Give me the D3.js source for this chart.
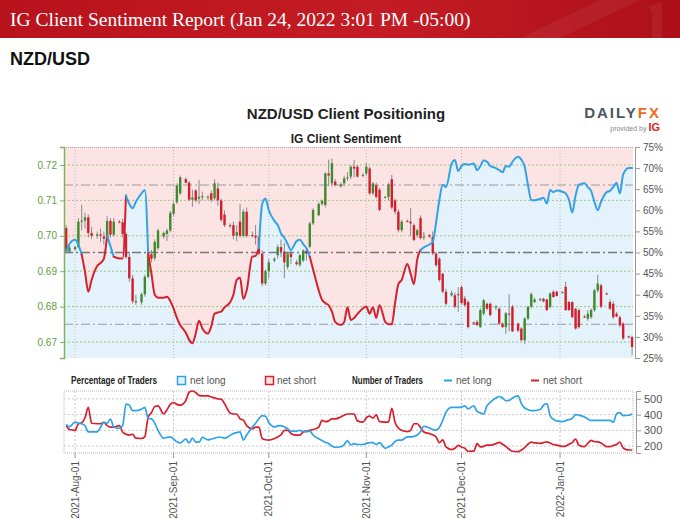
<!DOCTYPE html>
<html>
<head>
<meta charset="utf-8">
<script src="https://cdn.jsdelivr.net/npm/d3@7"></script>
<style>
  body { margin: 0; background: #fff; }
  svg { display: block; font-family: "Liberation Sans", Arial, sans-serif; }
</style>
</head>
<body>
<svg id="chart" width="680" height="520"></svg>
<script>
// ---- data ----
const firstDay = '2021-07-29';
const lastDay = '2022-01-24';
const monthTicks = ['2021-08-01', '2021-09-01', '2021-10-01', '2021-11-01', '2021-12-01', '2022-01-01'];
const priceTicks = [0.67, 0.68, 0.69, 0.70, 0.71, 0.72];
const pctTicks = [25, 30, 35, 40, 45, 50, 55, 60, 65, 70, 75];
const countTicks = [200, 300, 400, 500];
const refLevels = [66, 50, 33];

// one candle per trading day (Sun-Fri), Jul 29 2021 .. Jan 24 2022
const open = [0.7022, 0.6955,
  0.6962, 0.6968, 0.7040, 0.7043, 0.7052, 0.7008,
  0.7000, 0.7004, 0.6998, 0.6992, 0.7042, 0.7003,
  0.7040, 0.7038, 0.7005, 0.6940, 0.6880, 0.6815,
  0.6812, 0.6835, 0.6884, 0.6948, 0.6937, 0.6965,
  0.6998, 0.7005, 0.7015, 0.7062, 0.7095, 0.7120,
  0.7160, 0.7150, 0.7102, 0.7128, 0.7105, 0.7110,
  0.7108, 0.7120, 0.7106, 0.7134, 0.7100, 0.7060,
  0.7030, 0.7030, 0.7000, 0.7040, 0.7000, 0.7068,
  0.7002, 0.7000, 0.6995, 0.6950, 0.6865, 0.6900,
  0.6930, 0.6945, 0.6968, 0.6955, 0.6912, 0.6950,
  0.6925, 0.6918, 0.6930, 0.6958, 0.6969, 0.7035,
  0.7058, 0.7090, 0.7087, 0.7176, 0.7148, 0.7153,
  0.7140, 0.7148, 0.7162, 0.7167, 0.7195, 0.7195,
  0.7170, 0.7176, 0.7190, 0.7120, 0.7143, 0.7130,
  0.7108, 0.7110, 0.7160, 0.7100, 0.7068, 0.7016,
  0.7042, 0.7040, 0.7030, 0.7002, 0.7050, 0.6995,
  0.7002, 0.6997, 0.6950, 0.6935, 0.6893, 0.6842,
  0.6832, 0.6832, 0.6835, 0.6855, 0.6823, 0.6813,
  0.6755, 0.6757, 0.6742, 0.6780, 0.6808, 0.6808,
  0.6797, 0.6794, 0.6752, 0.6742, 0.6780, 0.6800,
  0.6752, 0.6738, 0.6705, 0.6766, 0.6800, 0.6813,
  0.6820, 0.6822, 0.6820, 0.6799, 0.6842, 0.6842,
  0.6840, 0.6856, 0.6813, 0.6813, 0.6794, 0.6790,
  0.6772, 0.6766, 0.6770, 0.6790, 0.6846, 0.6860,
  0.6837, 0.6813, 0.6808, 0.6780, 0.6770, 0.6752,
  0.6716, 0.6714];
const high = [0.7030, 0.6975,
  0.6972, 0.7050, 0.7088, 0.7065, 0.7060, 0.7025,
  0.7012, 0.7020, 0.7012, 0.7055, 0.7050, 0.7050,
  0.7045, 0.7048, 0.7010, 0.6955, 0.6890, 0.6833,
  0.6840, 0.6890, 0.6955, 0.6960, 0.6990, 0.7020,
  0.7012, 0.7020, 0.7070, 0.7095, 0.7148, 0.7170,
  0.7165, 0.7155, 0.7130, 0.7132, 0.7158, 0.7125,
  0.7115, 0.7128, 0.7160, 0.7150, 0.7105, 0.7072,
  0.7035, 0.7040, 0.7030, 0.7090, 0.7075, 0.7080,
  0.7012, 0.7030, 0.7000, 0.6960, 0.6905, 0.6935,
  0.6940, 0.6975, 0.6990, 0.6980, 0.6955, 0.6960,
  0.6932, 0.6948, 0.6962, 0.6965, 0.7040, 0.7078,
  0.7095, 0.7102, 0.7180, 0.7215, 0.7218, 0.7160,
  0.7150, 0.7170, 0.7180, 0.7200, 0.7215, 0.7200,
  0.7178, 0.7205, 0.7195, 0.7152, 0.7150, 0.7135,
  0.7112, 0.7150, 0.7172, 0.7105, 0.7075, 0.7045,
  0.7046, 0.7078, 0.7035, 0.7020, 0.7058, 0.7011,
  0.7005, 0.7012, 0.6955, 0.6940, 0.6895, 0.6850,
  0.6845, 0.6840, 0.6855, 0.6860, 0.6830, 0.6818,
  0.6758, 0.6762, 0.6795, 0.6822, 0.6812, 0.6812,
  0.6805, 0.6798, 0.6755, 0.6785, 0.6835, 0.6805,
  0.6755, 0.6742, 0.6770, 0.6802, 0.6840, 0.6825,
  0.6825, 0.6825, 0.6822, 0.6840, 0.6846, 0.6845,
  0.6843, 0.6870, 0.6816, 0.6815, 0.6796, 0.6795,
  0.6776, 0.6790, 0.6795, 0.6850, 0.6890, 0.6865,
  0.6840, 0.6820, 0.6815, 0.6785, 0.6775, 0.6756,
  0.6718, 0.6718];
const low = [0.6950, 0.6950,
  0.6958, 0.6965, 0.7015, 0.7020, 0.6995, 0.6990,
  0.6992, 0.6982, 0.6975, 0.6985, 0.6995, 0.6998,
  0.7035, 0.6995, 0.6935, 0.6870, 0.6808, 0.6805,
  0.6805, 0.6828, 0.6880, 0.6925, 0.6930, 0.6960,
  0.6992, 0.6985, 0.7010, 0.7055, 0.7090, 0.7115,
  0.7148, 0.7098, 0.7082, 0.7095, 0.7090, 0.7100,
  0.7100, 0.7095, 0.7100, 0.7085, 0.7040, 0.7025,
  0.7022, 0.6990, 0.6985, 0.6995, 0.6995, 0.6995,
  0.6995, 0.6975, 0.6945, 0.6858, 0.6860, 0.6880,
  0.6925, 0.6935, 0.6940, 0.6880, 0.6905, 0.6920,
  0.6915, 0.6912, 0.6925, 0.6930, 0.6965, 0.7030,
  0.7055, 0.7085, 0.7080, 0.7140, 0.7140, 0.7140,
  0.7135, 0.7140, 0.7155, 0.7160, 0.7165, 0.7165,
  0.7165, 0.7170, 0.7115, 0.7115, 0.7105, 0.7070,
  0.7105, 0.7100, 0.7075, 0.7060, 0.7010, 0.7010,
  0.7038, 0.7000, 0.6985, 0.6995, 0.6990, 0.6988,
  0.6994, 0.6945, 0.6912, 0.6870, 0.6838, 0.6802,
  0.6828, 0.6795, 0.6785, 0.6805, 0.6800, 0.6738,
  0.6750, 0.6745, 0.6740, 0.6775, 0.6790, 0.6772,
  0.6790, 0.6748, 0.6740, 0.6723, 0.6730, 0.6728,
  0.6728, 0.6702, 0.6695, 0.6762, 0.6795, 0.6810,
  0.6815, 0.6812, 0.6788, 0.6795, 0.6825, 0.6828,
  0.6837, 0.6788, 0.6788, 0.6768, 0.6735, 0.6738,
  0.6768, 0.6760, 0.6765, 0.6785, 0.6840, 0.6795,
  0.6833, 0.6790, 0.6765, 0.6770, 0.6742, 0.6706,
  0.6710, 0.6662];
const close = [0.6955, 0.6967,
  0.6968, 0.7040, 0.7043, 0.7052, 0.7008, 0.7000,
  0.7004, 0.7000, 0.6992, 0.7042, 0.7003, 0.7040,
  0.7038, 0.7005, 0.6940, 0.6880, 0.6815, 0.6812,
  0.6835, 0.6884, 0.6950, 0.6935, 0.6983, 0.7015,
  0.7008, 0.7015, 0.7065, 0.7090, 0.7142, 0.7165,
  0.7150, 0.7102, 0.7108, 0.7100, 0.7110, 0.7112,
  0.7110, 0.7102, 0.7148, 0.7100, 0.7045, 0.7030,
  0.7028, 0.7000, 0.7010, 0.7000, 0.7068, 0.7000,
  0.7000, 0.6995, 0.6950, 0.6865, 0.6900, 0.6925,
  0.6935, 0.6968, 0.6955, 0.6925, 0.6950, 0.6940,
  0.6920, 0.6945, 0.6958, 0.6950, 0.7035, 0.7073,
  0.7090, 0.7099, 0.7176, 0.7170, 0.7205, 0.7143,
  0.7145, 0.7162, 0.7165, 0.7195, 0.7190, 0.7167,
  0.7172, 0.7195, 0.7120, 0.7148, 0.7110, 0.7073,
  0.7110, 0.7145, 0.7080, 0.7068, 0.7016, 0.7040,
  0.7040, 0.7035, 0.6988, 0.7016, 0.6993, 0.6998,
  0.6998, 0.6950, 0.6917, 0.6875, 0.6842, 0.6808,
  0.6838, 0.6800, 0.6832, 0.6810, 0.6804, 0.6742,
  0.6752, 0.6748, 0.6790, 0.6818, 0.6794, 0.6776,
  0.6800, 0.6752, 0.6742, 0.6781, 0.6778, 0.6730,
  0.6732, 0.6705, 0.6766, 0.6799, 0.6835, 0.6820,
  0.6821, 0.6815, 0.6790, 0.6837, 0.6827, 0.6830,
  0.6841, 0.6790, 0.6790, 0.6770, 0.6738, 0.6742,
  0.6771, 0.6780, 0.6790, 0.6846, 0.6865, 0.6800,
  0.6836, 0.6794, 0.6770, 0.6772, 0.6747, 0.6710,
  0.6714, 0.6686];

// percentage of traders net long
const netLongPct = [50.3, 52.0,
  53.0, 51.8, 49.5, 45.4, 40.7, 43.5,
  46.8, 47.5, 48.5, 54.0, 51.5, 49.0,
  48.6, 48.6, 63.5, 61.5, 60.5, 62.0,
  64.0, 64.8, 49.7, 45.0, 40.0, 39.3,
  39.3, 39.5, 38.5, 36.7, 34.5, 32.8,
  31.0, 29.3, 28.5, 30.8, 33.8, 32.0,
  30.8, 32.5, 35.5, 35.8, 36.0, 37.0,
  38.2, 40.0, 43.5, 44.0, 39.0, 41.0,
  49.0, 49.2, 51.0, 61.5, 62.8, 60.0,
  57.5, 56.5, 54.5, 53.5, 52.0, 50.6,
  52.7, 53.0, 52.0, 51.0, 49.0, 46.0,
  41.0, 38.8, 38.0, 37.5, 36.0, 33.5,
  32.8, 33.5, 37.0, 34.0, 34.5, 35.4,
  36.8, 37.2, 35.5, 37.0, 34.5, 37.5,
  33.6, 33.0, 33.0, 38.0, 42.5, 43.5,
  47.3, 45.0, 42.5, 48.3, 50.6, 51.2,
  51.9, 52.5, 57.0, 62.5, 66.0, 65.5,
  71.0, 71.9, 69.3, 70.5, 71.0, 70.8,
  71.1, 69.5, 70.5, 71.8, 71.5, 70.5,
  70.0, 69.5, 69.0, 70.5, 70.3, 71.5,
  72.7, 72.0, 70.3, 66.0, 62.4, 62.4,
  62.7, 63.0, 61.6, 64.8, 64.3, 64.7,
  64.4, 64.0, 62.5, 59.5, 63.5, 66.0,
  66.4, 65.5, 64.6, 62.0, 60.0, 62.0,
  64.3, 64.6, 65.5, 66.5, 64.0, 68.5,
  70.0, 70.0];

// number of traders
const longCount = [338, 322,
  352, 345, 342, 330, 290, 290,
  290, 320, 350, 345, 372, 321,
  312, 330, 467, 460, 425, 425,
  435, 446, 375, 373, 345, 300,
  250, 255, 258, 245, 227, 220,
  245, 220, 250, 225, 225, 255,
  240, 245, 250, 256, 256, 250,
  268, 280, 285, 290, 238, 270,
  320, 345, 375, 394, 390, 350,
  322, 328, 330, 322, 310, 295,
  295, 300, 293, 292, 295, 270,
  246, 235, 224, 217, 200, 192,
  196, 210, 235, 207, 215, 210,
  210, 217, 222, 222, 210, 222,
  186, 195, 206, 230, 238, 238,
  258, 258, 262, 270, 292, 325,
  315, 305, 302, 318, 362, 415,
  446, 446, 446, 448, 455, 437,
  455, 420, 410, 405, 456, 478,
  505, 515, 505, 488, 490, 505,
  519, 470, 442, 432, 425, 425,
  432, 460, 470, 394, 370, 360,
  355, 362, 368, 376, 400, 396,
  385, 372, 363, 363, 363, 363,
  363, 363, 352, 405, 412, 394,
  396, 404];
const shortCount = [330, 305,
  300, 342, 348, 380, 446, 345,
  342, 342, 350, 330, 321, 321,
  330, 290, 275, 270, 275, 250,
  248, 260, 383, 412, 452, 456,
  404, 430, 465, 477, 465, 460,
  490, 542, 550, 540, 522, 519,
  519, 512, 506, 500, 498, 470,
  410, 404, 404, 373, 365, 330,
  310, 320, 320, 248, 240, 238,
  248, 258, 272, 300, 300, 280,
  269, 270, 290, 295, 300, 305,
  320, 363, 355, 360, 373, 373,
  385, 396, 404, 404, 404, 360,
  352, 380, 390, 378, 398, 355,
  352, 352, 440, 350, 315, 300,
  292, 300, 342, 342, 318, 290,
  279, 272, 258, 222, 240, 195,
  178, 186, 205, 194, 186, 167,
  168, 215, 195, 198, 206, 206,
  215, 224, 212, 198, 180, 167,
  165, 175, 190, 212, 225, 220,
  217, 222, 227, 219, 210, 206,
  198, 200, 212, 222, 245, 205,
  196, 218, 236, 228, 227, 220,
  196, 196, 204, 210, 226, 188,
  175, 175];

// ---- colours ----
const BLUE = '#2fa3e6';
const RED = '#d7202c';
const GREEN_C = '#3f8a2c';
const RED_C = '#d21f2b';
const PINK_BG = '#fce4e5';
const BLUE_BG = '#e4f2fc';

const svg = d3.select('#chart');
const parse = d3.utcParse('%Y-%m-%d');

// trading days: Saturdays have no candle
const days = d3.utcDay.range(parse(firstDay), d3.utcDay.offset(parse(lastDay), 1))
  .filter(d => d.getUTCDay() !== 6);

// broker time axis: each week is six sessions plus a small weekend gap
const weekZero = parse('2021-08-01');
function tradeT(d) {
  const n = Math.round((d - weekZero) / 864e5);
  return Math.floor(n / 7) * 6.7 + d.getUTCDay();
}

const candles = days.map((d, i) => ({
  date: d, t: tradeT(d),
  o: open[i], h: high[i], l: low[i], c: close[i],
  pct: netLongPct[i], nl: longCount[i], ns: shortCount[i]
}));

// ---- layout ----
const pTop = { left: 64, right: 633, top: 147, bottom: 358 };
const pBot = { left: 64, right: 633, top: 391, bottom: 453 };

const x = d3.scaleLinear()
  .domain([candles[0].t - 0.65, candles[candles.length - 1].t + 0.27])
  .range([pTop.left, pTop.right]);
const yPrice = d3.scaleLinear().domain([0.66548, 0.72508]).range([pTop.bottom, pTop.top]);
const yPct = d3.scaleLinear().domain([25, 75]).range([pTop.bottom, pTop.top]);
const yCnt = d3.scaleLinear().domain([156, 550]).range([pBot.bottom, pBot.top]);

const monthX = monthTicks.map(s => x(tradeT(parse(s))));

// ---- header ----
const defs = svg.append('defs');
const hg = defs.append('linearGradient').attr('id', 'hdr').attr('x1', 0).attr('x2', 1);
hg.append('stop').attr('offset', 0).attr('stop-color', '#b8121c');
hg.append('stop').attr('offset', 0.55).attr('stop-color', '#c41c24');
hg.append('stop').attr('offset', 1).attr('stop-color', '#ad1019');
svg.append('rect').attr('width', 680).attr('height', 38).attr('fill', 'url(#hdr)');
svg.append('path').attr('d', 'M600,0 L640,0 L560,38 L520,38 Z').attr('fill', '#fff').attr('opacity', 0.05);
svg.append('path').attr('d', 'M648,6 L662,2 L662,38 L652,38 L652,12 Z').attr('fill', '#fff').attr('opacity', 0.05);
svg.append('text')
  .attr('x', 10).attr('y', 26)
  .attr('fill', '#fff')
  .style('font-family', '"Liberation Serif", "DejaVu Serif", serif')
  .style('font-size', '19.5px')
  .text('IG Client Sentiment Report (Jan 24, 2022 3:01 PM -05:00)');

svg.append('text')
  .attr('x', 10).attr('y', 65)
  .attr('fill', '#111')
  .style('font-size', '18px').style('font-weight', 'bold')
  .text('NZD/USD');

// ---- titles ----
svg.append('text')
  .attr('x', 346).attr('y', 119)
  .attr('text-anchor', 'middle')
  .attr('fill', '#222')
  .style('font-size', '15px').style('font-weight', 'bold')
  .text('NZD/USD Client Positioning');
svg.append('text')
  .attr('x', 346).attr('y', 143)
  .attr('text-anchor', 'middle')
  .attr('fill', '#222')
  .style('font-size', '12px').style('font-weight', 'bold')
  .text('IG Client Sentiment');

// DailyFX logo
const logo = svg.append('text').attr('x', 661).attr('y', 118).attr('text-anchor', 'end')
  .style('font-size', '15px').style('font-weight', 'bold').style('letter-spacing', '2px');
logo.append('tspan').attr('fill', '#4a5560').text('DAILY');
logo.append('tspan').attr('fill', '#f26a21').text('FX');
const prov = svg.append('text').attr('x', 660).attr('y', 131).attr('text-anchor', 'end');
prov.append('tspan').attr('fill', '#888').style('font-size', '7px').text('provided by ');
prov.append('tspan').attr('fill', '#e2231a').style('font-size', '11px').style('font-weight', 'bold').text('IG');

// ---- top panel ----
const gTop = svg.append('g');
gTop.append('rect')
  .attr('x', pTop.left).attr('y', pTop.top)
  .attr('width', pTop.right - pTop.left).attr('height', pTop.bottom - pTop.top)
  .attr('fill', PINK_BG);

const areaPts = [{ px: pTop.left, v: candles[0].pct }]
  .concat(candles.map(d => ({ px: x(d.t), v: d.pct })))
  .concat([{ px: pTop.right, v: candles[candles.length - 1].pct }]);
gTop.append('path')
  .datum(areaPts)
  .attr('fill', BLUE_BG)
  .attr('d', d3.area().curve(d3.curveMonotoneX)
    .x(d => d.px).y0(pTop.bottom).y1(d => yPct(d.v)));

// green dotted price grid
gTop.selectAll('.pgrid').data(priceTicks).join('line')
  .attr('x1', pTop.left).attr('x2', pTop.right)
  .attr('y1', d => yPrice(d)).attr('y2', d => yPrice(d))
  .attr('stroke', '#9cc67e').attr('stroke-width', 1).attr('stroke-dasharray', '2,2');

// dash-dot sentiment reference lines
gTop.selectAll('.ref').data(refLevels).join('line')
  .attr('x1', pTop.left).attr('x2', pTop.right)
  .attr('y1', d => yPct(d)).attr('y2', d => yPct(d))
  .attr('stroke', d => d === 50 ? '#777' : '#9a9a9a')
  .attr('stroke-width', d => d === 50 ? 1.6 : 1.2)
  .attr('stroke-dasharray', '9,3,2,3');

// month gridlines
gTop.selectAll('.vgrid').data(monthX).join('line')
  .attr('x1', d => d).attr('x2', d => d)
  .attr('y1', pTop.top).attr('y2', pTop.bottom)
  .attr('stroke', '#b9b9b9').attr('stroke-dasharray', '1,2');

// top border
gTop.append('line')
  .attr('x1', pTop.left).attr('x2', pTop.right).attr('y1', pTop.top + 0.5).attr('y2', pTop.top + 0.5)
  .attr('stroke', '#aaa').attr('stroke-dasharray', '1,1');

// candles
const gC = gTop.selectAll('.candle').data(candles).join('g');
gC.append('line')
  .attr('x1', d => x(d.t)).attr('x2', d => x(d.t))
  .attr('y1', d => yPrice(d.h)).attr('y2', d => yPrice(d.l))
  .attr('stroke', '#8a8a8a').attr('stroke-width', 1);
gC.append('rect')
  .attr('x', d => x(d.t) - 1.2)
  .attr('width', 2.4)
  .attr('y', d => yPrice(Math.max(d.o, d.c)))
  .attr('height', d => Math.max(1, Math.abs(yPrice(d.o) - yPrice(d.c))))
  .attr('fill', d => d.c >= d.o ? GREEN_C : RED_C);

// sentiment line, coloured by side of 50%
const runs = [];
for (let i = 0; i < candles.length - 1; i++) {
  const col = candles[i].pct >= 50 ? BLUE : RED;
  const last = runs[runs.length - 1];
  if (last && last.col === col) last.pts.push(candles[i + 1]);
  else runs.push({ col, pts: [candles[i], candles[i + 1]] });
}
const sLine = d3.line().curve(d3.curveMonotoneX).x(d => x(d.t)).y(d => yPct(d.pct));
gTop.selectAll('.srun').data(runs).join('path')
  .attr('d', d => sLine(d.pts))
  .attr('fill', 'none')
  .attr('stroke', d => d.col)
  .attr('stroke-width', 2)
  .attr('stroke-linejoin', 'round')
  .attr('stroke-linecap', 'round');

// axes of top panel
const axL = gTop.append('g')
  .attr('transform', `translate(${pTop.left},0)`)
  .call(d3.axisLeft(yPrice).tickValues(priceTicks).tickFormat(d3.format('.2f')).tickSize(4));
axL.select('.domain').attr('stroke', '#7fb35c').attr('stroke-width', 1.5);
axL.selectAll('.tick line').attr('stroke', '#7fb35c');
axL.selectAll('.tick text').attr('fill', '#5f9c3c').style('font-size', '10px')
  .style('font-family', '"Liberation Sans", Arial, sans-serif');

const axR = gTop.append('g')
  .attr('transform', 'translate(635,0)')
  .call(d3.axisRight(yPct).tickValues(pctTicks).tickFormat(d => d + '%').tickSize(5).tickSizeOuter(5));
axR.select('.domain').attr('stroke', '#999');
axR.selectAll('.tick line').attr('stroke', '#999');
axR.selectAll('.tick text').attr('fill', '#555').style('font-size', '10px')
  .style('font-family', '"Liberation Sans", Arial, sans-serif');

// ---- legend ----
const lg = svg.append('g').style('font-size', '10px');
lg.append('text').attr('x', 71).attr('y', 384).attr('fill', '#222').style('font-weight', 'bold')
  .attr('textLength', 86).attr('lengthAdjust', 'spacingAndGlyphs').text('Percentage of Traders');
lg.append('rect').attr('x', 177.5).attr('y', 376.5).attr('width', 8).attr('height', 8)
  .attr('fill', BLUE_BG).attr('stroke', BLUE).attr('stroke-width', 1.5);
lg.append('text').attr('x', 190).attr('y', 384).attr('fill', '#555').text('net long');
lg.append('rect').attr('x', 265.5).attr('y', 376.5).attr('width', 8).attr('height', 8)
  .attr('fill', PINK_BG).attr('stroke', RED).attr('stroke-width', 1.5);
lg.append('text').attr('x', 277).attr('y', 384).attr('fill', '#555').text('net short');
lg.append('text').attr('x', 352).attr('y', 384).attr('fill', '#222').style('font-weight', 'bold')
  .attr('textLength', 71).attr('lengthAdjust', 'spacingAndGlyphs').text('Number of Traders');
lg.append('line').attr('x1', 444).attr('x2', 452).attr('y1', 380.5).attr('y2', 380.5).attr('stroke', BLUE).attr('stroke-width', 2);
lg.append('text').attr('x', 456).attr('y', 384).attr('fill', '#555').text('net long');
lg.append('line').attr('x1', 531).attr('x2', 539).attr('y1', 380.5).attr('y2', 380.5).attr('stroke', RED).attr('stroke-width', 2);
lg.append('text').attr('x', 543).attr('y', 384).attr('fill', '#555').text('net short');

// ---- bottom panel ----
const gBot = svg.append('g');
gBot.selectAll('.cgrid').data(countTicks).join('line')
  .attr('x1', pBot.left).attr('x2', pBot.right)
  .attr('y1', d => yCnt(d)).attr('y2', d => yCnt(d))
  .attr('stroke', '#c8c8c8').attr('stroke-dasharray', '2,2');
gBot.selectAll('.bvgrid').data(monthX).join('line')
  .attr('x1', d => d).attr('x2', d => d)
  .attr('y1', pBot.top).attr('y2', pBot.bottom)
  .attr('stroke', '#c8c8c8').attr('stroke-dasharray', '2,2');
gBot.append('rect')
  .attr('x', pBot.left).attr('y', pBot.top)
  .attr('width', pBot.right - pBot.left).attr('height', pBot.bottom - pBot.top)
  .attr('fill', 'none').attr('stroke', '#bbb').attr('stroke-dasharray', '1,1');

const cLine = key => d3.line().curve(d3.curveMonotoneX).x(d => x(d.t)).y(d => yCnt(d[key]));
gBot.append('path').datum(candles)
  .attr('d', cLine('ns')).attr('fill', 'none').attr('stroke', RED).attr('stroke-width', 1.7)
  .attr('stroke-linejoin', 'round');
gBot.append('path').datum(candles)
  .attr('d', cLine('nl')).attr('fill', 'none').attr('stroke', BLUE).attr('stroke-width', 1.7)
  .attr('stroke-linejoin', 'round');

const axB = gBot.append('g')
  .attr('transform', 'translate(636,0)')
  .call(d3.axisRight(yCnt).tickValues(countTicks).tickSize(5).tickSizeOuter(5));
axB.select('.domain').attr('stroke', '#999');
axB.selectAll('.tick line').attr('stroke', '#999');
axB.selectAll('.tick text').attr('fill', '#555').style('font-size', '11px')
  .style('font-family', '"Liberation Sans", Arial, sans-serif');

// month axis
const gX = gBot.append('g');
gX.selectAll('.xt').data(monthX).join('line')
  .attr('x1', d => d).attr('x2', d => d)
  .attr('y1', pBot.bottom).attr('y2', pBot.bottom + 5)
  .attr('stroke', '#999');
const fmt = d3.utcFormat('%Y-%b-%d');
gX.selectAll('.xl').data(monthTicks).join('text')
  .attr('transform', (d, i) => `translate(${monthX[i]},461) rotate(-90)`)
  .attr('text-anchor', 'end')
  .attr('dy', '0.35em')
  .attr('fill', '#555')
  .style('font-size', '10px')
  .text(d => fmt(parse(d)));
</script>
</body>
</html>
